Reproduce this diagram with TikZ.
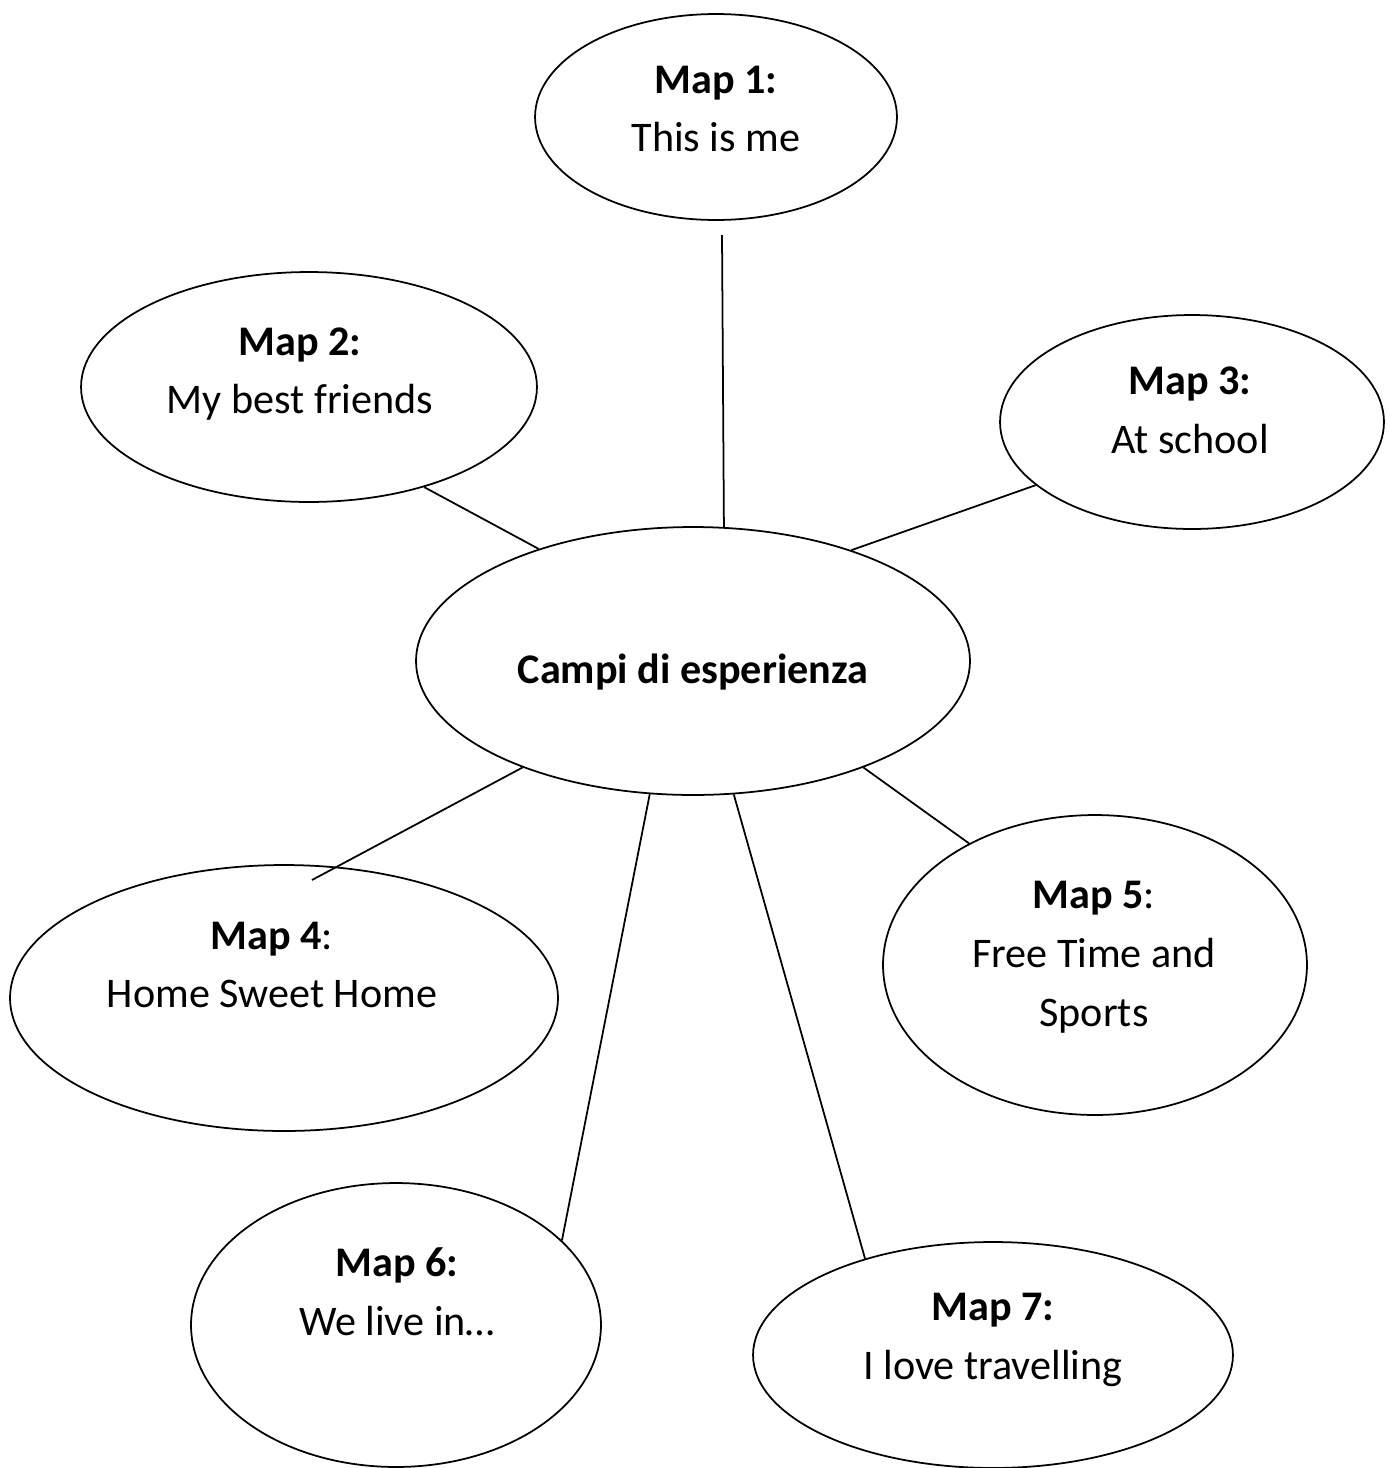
\documentclass[tikz,border=0pt]{standalone}
\usepackage{fontspec}
\setmainfont{Carlito}
\usetikzlibrary{shapes.geometric}
\tikzset{%
    mapbox/.style={ellipse, draw, line width=1pt, inner sep=0pt},
    maptext/.style={align=center, inner sep=0pt, font=\fontsize{24}{33.5}\selectfont},
    link/.style={draw, line width=1pt}
}
\begin{document}
\begin{tikzpicture}[x=0.02cm, y=-0.02cm]
    \useasboundingbox (0,0) rectangle (1389,1468);
    % bubbles
    \node[mapbox, minimum width=11.08cm, minimum height=5.36cm] (hub) at (693,661) {};
    \node[mapbox, minimum width=7.24cm, minimum height=4.12cm] (m1) at (716,117) {};
    \node[mapbox, minimum width=9.12cm, minimum height=4.60cm] (m2) at (309,387) {};
    \node[mapbox, minimum width=7.68cm, minimum height=4.28cm] (m3) at (1192,422) {};
    \node[mapbox, minimum width=10.96cm, minimum height=5.32cm] (m4) at (284,998) {};
    \node[mapbox, minimum width=8.48cm, minimum height=6.00cm] (m5) at (1095,965) {};
    \node[mapbox, minimum width=8.20cm, minimum height=5.68cm] (m6) at (396,1325) {};
    \node[mapbox, minimum width=9.60cm, minimum height=4.52cm] (m7) at (993,1355) {};
    % texts
    \node[maptext] (hubtext) at (693,672) {\textbf{Campi di esperienza}};
    \node[maptext] (m1text) at (716,109) {\textbf{Map 1:}\\This is me};
    \node[maptext] (m2text) at (300,374) {\textbf{Map 2:}\\My best friends};
    \node[maptext] (m3text) at (1190,410) {\textbf{Map 3:}\\At school};
    \node[maptext] (m4text) at (272,965) {\textbf{Map 4}:\\Home Sweet Home};
    \node[maptext] (m5text) at (1094,957) {\textbf{Map 5}:\\Free Time and\\Sports};
    \node[maptext] (m6text) at (397,1292) {\textbf{Map 6:}\\We live in…};
    \node[maptext] (m7text) at (993,1340) {\textbf{Map 7:}\\I love travelling};
    % connectors
    \coordinate (m1tail) at (722,235);
    \coordinate (m4tail) at (312,880);
    \draw[link] (m1tail) -- (hub.77);
    \draw[link] (m2.319) -- (hub.144);
    \draw[link] (m3.202) -- (hub.35);
    \draw[link] (hub.212) -- (m4tail);
    \draw[link] (hub.328) -- (m5.136);
    \draw[link] (hub.252) -- (m6.27);
    \draw[link] (hub.287) -- (m7.143);
\end{tikzpicture}
\end{document}
